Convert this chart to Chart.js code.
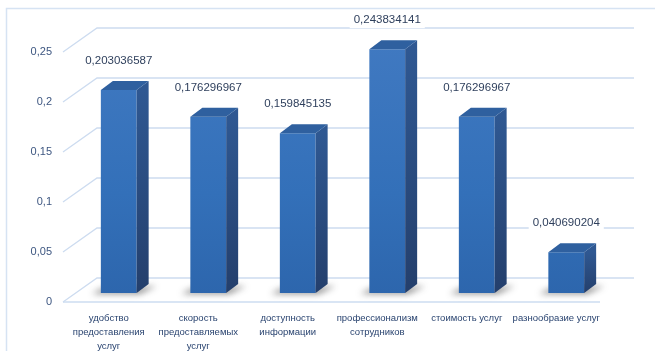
<!DOCTYPE html>
<html>
<head>
<meta charset="utf-8">
<script src="https://cdn.jsdelivr.net/npm/chart.js@4.4.1/dist/chart.umd.min.js"></script>
<style>
  html, body { margin: 0; background: #fff; }
  .wrap { position: relative; width: 655px; height: 351px; }
</style>
</head>
<body>
<div class="wrap"><canvas id="chart" width="655" height="351"></canvas></div>
<script>
// данные
const categories = [
  ["удобство", "предоставления", "услуг"],
  ["скорость", "предоставляемых", "услуг"],
  ["доступность", "информации"],
  ["профессионализм", "сотрудников"],
  ["стоимость услуг"],
  ["разнообразие услуг"]
];
const values = [0.203036587, 0.176296967, 0.159845135, 0.243834141, 0.176296967, 0.040690204];
const valueLabels = ["0,203036587", "0,176296967", "0,159845135", "0,243834141", "0,176296967", "0,040690204"];
const yTicks = [0, 0.05, 0.1, 0.15, 0.2, 0.25];
const yTickLabels = ["0", "0,05", "0,1", "0,15", "0,2", "0,25"];

// 3D offsets (from the bar plane)
const FRONT = { dx: -11, dy: 9 };
const BACK = { dx: 23, dy: -15 };
const DEPTH = { dx: 12, dy: -9 };
const gridColor = "#cddcf0";

const walls = {
  id: "walls",
  beforeDatasetsDraw(chart) {
    const ctx = chart.ctx;
    const { left, right } = chart.chartArea;
    const y = chart.scales.y;
    ctx.save();
    // рамка
    ctx.strokeStyle = "#d6e3f3";
    ctx.lineWidth = 1.5;
    ctx.strokeRect(6.5, 8.5, 700, 400);

    ctx.strokeStyle = gridColor;
    ctx.lineWidth = 1.3;
    yTicks.forEach(v => {
      const py = y.getPixelForValue(v);
      ctx.beginPath();
      ctx.moveTo(left + FRONT.dx, py + FRONT.dy);
      ctx.lineTo(left + BACK.dx, py + BACK.dy);
      ctx.lineTo(right + BACK.dx, py + BACK.dy);
      ctx.stroke();
    });
    // передний край пола
    const p0 = y.getPixelForValue(0);
    ctx.beginPath();
    ctx.moveTo(left + FRONT.dx, p0 + FRONT.dy);
    ctx.lineTo(right + FRONT.dx, p0 + FRONT.dy);
    ctx.stroke();

    // тени
    chart.getDatasetMeta(0).data.forEach(bar => {
      const x0 = bar.x - bar.width / 2;
      const x1 = bar.x + bar.width / 2;
      ctx.save();
      ctx.filter = "blur(3px)";
      ctx.fillStyle = "rgba(40,40,40,0.5)";
      ctx.beginPath();
      ctx.moveTo(x0 - 9, bar.base + 1);
      ctx.lineTo(x1 + 3, bar.base + 1);
      ctx.lineTo(x1 + DEPTH.dx + 8, bar.base + DEPTH.dy + 2);
      ctx.lineTo(x0, bar.base - 4);
      ctx.closePath();
      ctx.fill();
      ctx.restore();
    });
    ctx.restore();
  },
  afterDatasetsDraw(chart) {
    const ctx = chart.ctx;
    ctx.save();
    chart.getDatasetMeta(0).data.forEach((bar, i) => {
      const x0 = bar.x - bar.width / 2;
      const x1 = bar.x + bar.width / 2;
      const top = bar.y, base = bar.base;
      // боковая грань
      const g = ctx.createLinearGradient(0, top, 0, base);
      g.addColorStop(0, "#2f5892");
      g.addColorStop(1, "#243f6c");
      ctx.fillStyle = g;
      ctx.beginPath();
      ctx.moveTo(x1, top);
      ctx.lineTo(x1 + DEPTH.dx, top + DEPTH.dy);
      ctx.lineTo(x1 + DEPTH.dx, base + DEPTH.dy);
      ctx.lineTo(x1, base);
      ctx.closePath();
      ctx.fill();
      // верхняя грань
      ctx.fillStyle = "#2f609f";
      ctx.beginPath();
      ctx.moveTo(x0, top);
      ctx.lineTo(x0 + DEPTH.dx, top + DEPTH.dy);
      ctx.lineTo(x1 + DEPTH.dx, top + DEPTH.dy);
      ctx.lineTo(x1, top);
      ctx.closePath();
      ctx.fill();

      // подпись значения
      ctx.font = "11.5px 'Liberation Sans', Arial, sans-serif";
      const tw = ctx.measureText(valueLabels[i]).width;
      const ly = top - 29;
      ctx.fillStyle = "#fff";
      ctx.fillRect(bar.x - tw / 2 - 4, ly - 8, tw + 8, 16);
      ctx.fillStyle = "#2e3f5c";
      ctx.textAlign = "center";
      ctx.textBaseline = "middle";
      ctx.fillText(valueLabels[i], bar.x, ly);
    });
    ctx.restore();
  }
};

new Chart(document.getElementById("chart"), {
  type: "bar",
  data: {
    labels: categories,
    datasets: [{
      data: values,
      backgroundColor: (c) => {
        const area = c.chart.chartArea;
        if (!area) return "#3571ba";
        const g = c.chart.ctx.createLinearGradient(0, area.top, 0, area.bottom);
        g.addColorStop(0, "#4079c1");
        g.addColorStop(0.6, "#3370b9");
        g.addColorStop(1, "#2d66ad");
        return g;
      },
      borderWidth: 0,
      categoryPercentage: 1,
      barPercentage: 0.4
    }]
  },
  options: {
    responsive: false,
    animation: false,
    layout: { padding: { top: 43, right: 44, bottom: 0, left: 0 } },
    plugins: { legend: { display: false }, tooltip: { enabled: false } },
    scales: {
      x: {
        grid: { display: false, drawTicks: false },
        border: { display: false },
        ticks: {
          color: "#2a4470",
          font: { family: "'Liberation Sans', Arial, sans-serif", size: 9.5, lineHeight: 1.5 },
          padding: 18,
          labelOffset: -10,
          maxRotation: 0,
          autoSkip: false
        },
        afterFit(scale) { scale.height = 58; }
      },
      y: {
        min: 0,
        max: 0.25,
        grid: { display: false, drawTicks: false },
        border: { display: false },
        afterBuildTicks(scale) { scale.ticks = yTicks.map(v => ({ value: v })); },
        ticks: {
          color: "#3d5680",
          font: { family: "'Liberation Sans', Arial, sans-serif", size: 11 },
          padding: 22,
          labelOffset: 9,
          callback: (v, i) => yTickLabels[i]
        },
        afterFit(scale) { scale.width = 74; }
      }
    }
  },
  plugins: [walls]
});
</script>
</body>
</html>
